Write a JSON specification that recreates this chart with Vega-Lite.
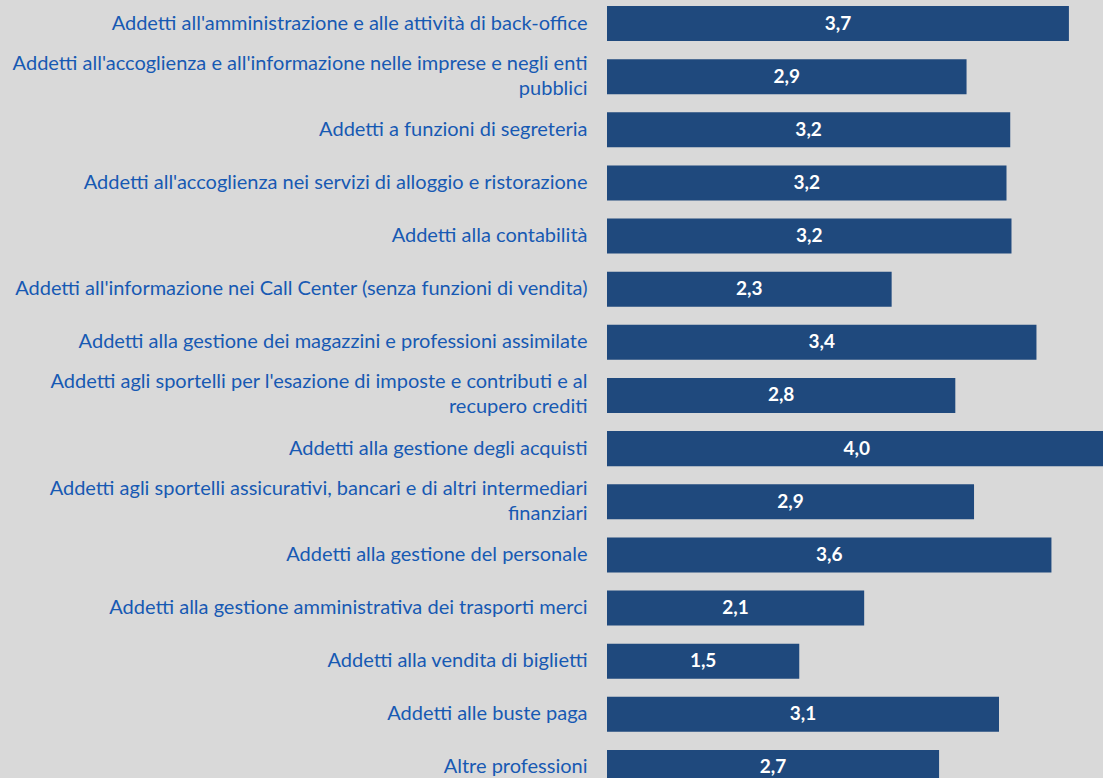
{
  "$schema": "https://vega.github.io/schema/vega-lite/v6.json",
  "width": 496,
  "height": 778,
  "autosize": {"type": "none"},
  "padding": {"left": 607, "top": 0, "right": 0, "bottom": 0},
  "background": "#d9d9d9",
  "config": {
    "view": {"stroke": null},
    "locale": {"number": {"decimal": ",", "thousands": ".", "grouping": [3], "currency": ["", " €"]}}
  },
  "data": {
    "values": [
      {"profession": "Addetti all'amministrazione e alle attività di back-office", "value": 3.70},
      {"profession": "Addetti all'accoglienza e all'informazione nelle imprese e negli enti\npubblici", "value": 2.88},
      {"profession": "Addetti a funzioni di segreteria", "value": 3.23},
      {"profession": "Addetti all'accoglienza nei servizi di alloggio e ristorazione", "value": 3.20},
      {"profession": "Addetti alla contabilità", "value": 3.24},
      {"profession": "Addetti all'informazione nei Call Center (senza funzioni di vendita)", "value": 2.28},
      {"profession": "Addetti alla gestione dei magazzini e professioni assimilate", "value": 3.44},
      {"profession": "Addetti agli sportelli per l'esazione di imposte e contributi e al\nrecupero crediti", "value": 2.79},
      {"profession": "Addetti alla gestione degli acquisti", "value": 4.0},
      {"profession": "Addetti agli sportelli assicurativi, bancari e di altri intermediari\nfinanziari", "value": 2.94},
      {"profession": "Addetti alla gestione del personale", "value": 3.56},
      {"profession": "Addetti alla gestione amministrativa dei trasporti merci", "value": 2.06},
      {"profession": "Addetti alla vendita di biglietti", "value": 1.54},
      {"profession": "Addetti alle buste paga", "value": 3.14},
      {"profession": "Altre professioni", "value": 2.66}
    ]
  },
  "encoding": {
    "y": {
      "field": "profession",
      "type": "nominal",
      "sort": null,
      "scale": {"range": [-3.07, 794.03], "paddingInner": 0.341, "paddingOuter": 0.1705},
      "axis": {
        "title": null,
        "domain": false,
        "ticks": false,
        "labelPadding": 20,
        "labelFont": "Lato",
        "labelFontSize": 20,
        "labelColor": "#1759b3",
        "labelLimit": 0,
        "labelLineHeight": 25,
        "labelOverlap": false,
        "labelOffset": {"condition": {"test": "indexof(datum.value, '\\n') >= 0", "value": -13}, "value": 0},
        "labelExpr": "split(datum.label, '\\n')"
      }
    }
  },
  "layer": [
    {
      "mark": {"type": "bar", "color": "#1f497d", "clip": true},
      "encoding": {
        "x": {"field": "value", "type": "quantitative", "scale": {"domain": [0, 3.973], "nice": false, "zero": true}, "axis": null}
      }
    },
    {
      "mark": {"type": "text", "color": "#ffffff", "font": "Lato", "fontWeight": "bold", "fontSize": 19, "align": "center", "baseline": "middle"},
      "encoding": {
        "x": {"field": "value", "type": "quantitative", "scale": {"domain": [0, 7.946], "nice": false, "zero": true}, "axis": null},
        "text": {"field": "value", "type": "quantitative", "format": ".1f"}
      }
    }
  ],
  "resolve": {"scale": {"x": "independent"}}
}
